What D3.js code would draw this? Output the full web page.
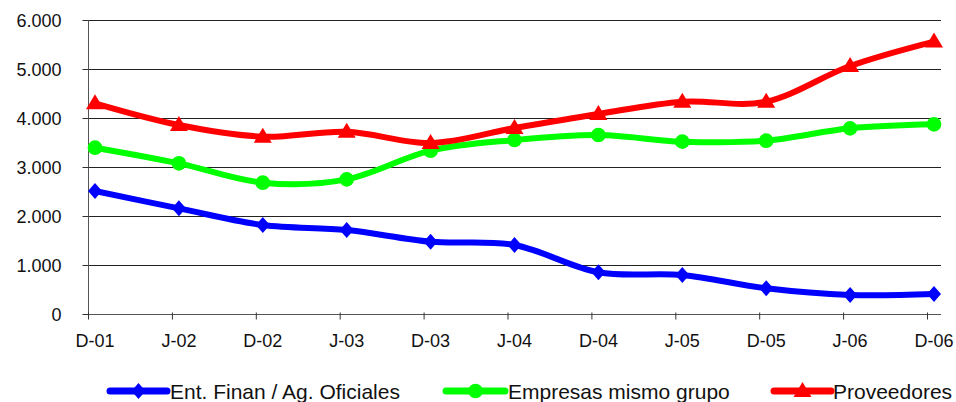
<!DOCTYPE html>
<html>
<head>
<meta charset="utf-8">
<script src="https://cdn.jsdelivr.net/npm/d3@7"></script>
<style>
  html, body { margin: 0; padding: 0; background: #fff; }
  svg { display: block; font-family: "Liberation Sans", Arial, sans-serif; }
</style>
</head>
<body>
<svg id="chart" width="956" height="402"></svg>
<script>
const categories = ["D-01","J-02","D-02","J-03","D-03","J-04","D-04","J-05","D-05","J-06","D-06"];
const entFinan   = [2510, 2156, 1816, 1714, 1476, 1408, 851, 796, 524, 388, 408];
const empresas   = [3394, 3075, 2680, 2748, 3333, 3551, 3653, 3517, 3537, 3789, 3871];
const proveedores= [4300, 3857, 3619, 3720, 3490, 3796, 4082, 4333, 4333, 5061, 5560];
const yTicks     = [0, 1000, 2000, 3000, 4000, 5000, 6000];
const seriesNames = ["Ent. Finan / Ag. Oficiales", "Empresas mismo grupo", "Proveedores"];
const seriesColors = ["#0000FF", "#00FF00", "#FF0000"];
const seriesMarkers = ["diamond", "circle", "triangle"];

const series = [entFinan, empresas, proveedores].map((vals, i) => ({
  name: seriesNames[i], color: seriesColors[i], marker: seriesMarkers[i], values: vals
}));

const svg = d3.select("#chart");
const plot = {left: 88, right: 941, top: 20, bottom: 314};

const x = d3.scalePoint().domain(categories).range([95, 934]);
const xTick = d3.scalePoint().domain(categories).range([88, 927]);
const y = d3.scaleLinear().domain([0, 6000]).range([plot.bottom, plot.top]);
const fmt = v => d3.format(",")(v).replace(/,/g, ".");

// gridlines
svg.append("g").selectAll("line").data(yTicks.filter(d => d > 0)).join("line")
  .attr("x1", plot.left).attr("x2", plot.right)
  .attr("y1", d => Math.round(y(d)) + 0.5).attr("y2", d => Math.round(y(d)) + 0.5)
  .attr("stroke", "#222").attr("stroke-width", 1);

// y axis
const yAxis = svg.append("g").attr("transform", `translate(${plot.left + 0.5},0)`)
  .call(d3.axisLeft(y).tickValues(yTicks).tickFormat(fmt).tickSize(6).tickPadding(21));
yAxis.select(".domain").attr("stroke", "#555").attr("d", `M0,${plot.top}V${plot.bottom}`);
yAxis.selectAll(".tick line").attr("stroke", "#333");
yAxis.selectAll(".tick text").attr("font-size", 18).attr("fill", "#111")
  .attr("font-family", "Liberation Sans, Arial, sans-serif").attr("dy", "0.35em");

// x axis
const xAxis = svg.append("g").attr("transform", `translate(0,${plot.bottom + 0.5})`)
  .call(d3.axisBottom(xTick).tickSize(5).tickFormat(""));
xAxis.select(".domain").attr("stroke", "#555").attr("d", `M${plot.left},0H${plot.right}`);
xAxis.selectAll(".tick line").attr("stroke", "#333").attr("y1", -2);
svg.append("g").selectAll("text").data(categories).join("text")
  .attr("x", d => x(d)).attr("y", 347)
  .attr("text-anchor", "middle").attr("font-size", 18).attr("fill", "#111")
  .text(d => d);

function markerPath(type) {
  if (type === "diamond") return "M0,-8L7,0L0,8L-7,0Z";
  if (type === "triangle") return "M0,-9L9,6L-9,6Z";
  return d3.symbol(d3.symbolCircle, 170)();
}

const line = d3.line()
  .x((d, i) => x(categories[i]))
  .y(d => y(d))
  .curve(d3.curveCardinal.tension(0));

const g = svg.append("g");
series.forEach(s => {
  g.append("path").datum(s.values)
    .attr("d", line).attr("fill", "none")
    .attr("stroke", s.color).attr("stroke-width", 6)
    .attr("stroke-linejoin", "round").attr("stroke-linecap", "round");
  g.append("g").selectAll("path").data(s.values).join("path")
    .attr("transform", (d, i) => `translate(${x(categories[i])},${y(d)})`)
    .attr("d", markerPath(s.marker)).attr("fill", s.color);
});

// legend
const legendItems = [
  {x1: 110, x2: 167, tx: 170},
  {x1: 446, x2: 505, tx: 508},
  {x1: 774, x2: 831, tx: 833}
];
const ly = 391;
series.forEach((s, i) => {
  const li = legendItems[i];
  const lg = svg.append("g");
  lg.append("line").attr("x1", li.x1).attr("x2", li.x2).attr("y1", ly).attr("y2", ly)
    .attr("stroke", s.color).attr("stroke-width", 7).attr("stroke-linecap", "round");
  lg.append("path").attr("transform", `translate(${(li.x1 + li.x2) / 2},${ly})`)
    .attr("d", markerPath(s.marker)).attr("fill", s.color);
  lg.append("text").attr("x", li.tx).attr("y", 399).attr("font-size", 21).attr("fill", "#111")
    .text(s.name);
});
</script>
</body>
</html>
